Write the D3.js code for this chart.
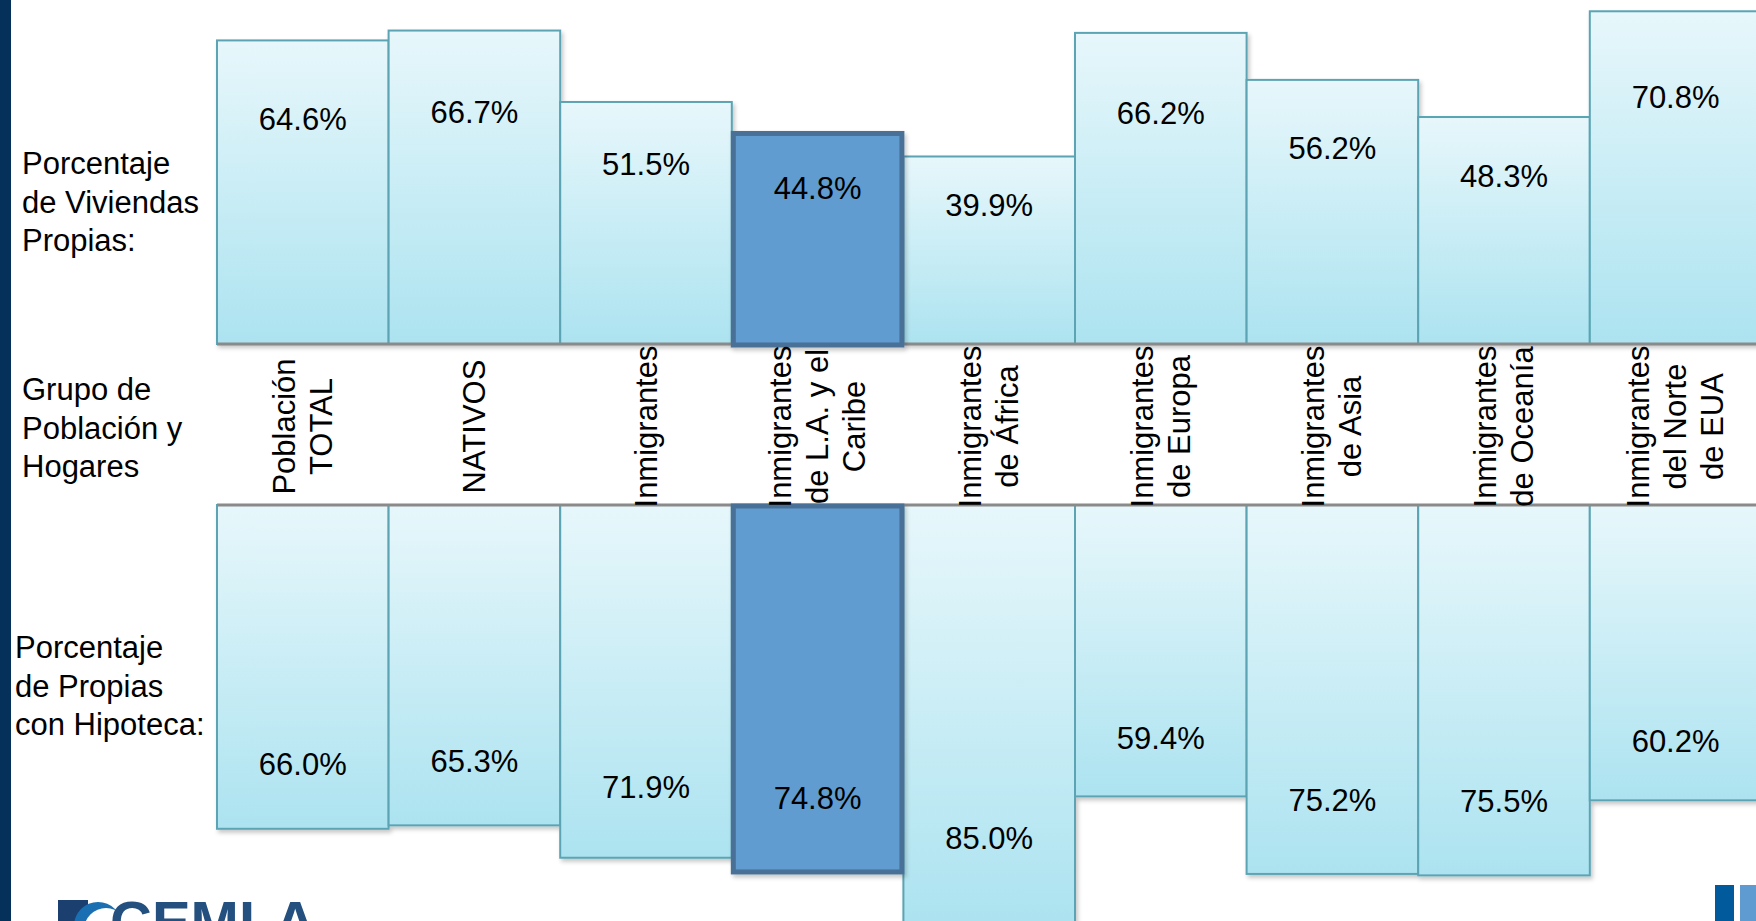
<!DOCTYPE html>
<html>
<head>
<meta charset="utf-8">
<script src="https://cdn.jsdelivr.net/npm/d3@7"></script>
<style>
  body { margin: 0; background: #fff; overflow: hidden; }
  svg { display: block; font-family: "Liberation Sans", Arial, Helvetica, sans-serif; }
</style>
</head>
<body>
<svg width="1756" height="921"></svg>
<script>
// groups, in the order of the columns
const grupos = ['TOTAL', 'NATIVOS', 'INM', 'LAC', 'AFR', 'EUR', 'ASIA', 'OCE', 'NOR'];
const grupoLineas = [
  ['Población', 'TOTAL'],
  ['NATIVOS'],
  ['Inmigrantes'],
  ['Inmigrantes', 'de L.A. y el', 'Caribe'],
  ['Inmigrantes', 'de África'],
  ['Inmigrantes', 'de Europa'],
  ['Inmigrantes', 'de Asia'],
  ['Inmigrantes', 'de Oceanía'],
  ['Inmigrantes', 'del Norte', 'de EUA']
];
const viviendasPropias = [64.6, 66.7, 51.5, 44.8, 39.9, 66.2, 56.2, 48.3, 70.8];
const conHipoteca = [66.0, 65.3, 71.9, 74.8, 85.0, 59.4, 75.2, 75.5, 60.2];
const destacado = 'LAC';

const filaArriba = ['Porcentaje', 'de Viviendas', 'Propias:'];
const filaMedio = ['Grupo de', 'Población y', 'Hogares'];
const filaAbajo = ['Porcentaje', 'de Propias', 'con Hipoteca:'];

const svg = d3.select('svg');
const fmt = d => d.toFixed(1) + '%';

const x = d3.scaleBand().domain(grupos).range([217, 217 + 171.6 * grupos.length]).padding(0);
const yTop = d3.scaleLinear().domain([0, 73.2]).range([344, 0]);
const yBot = d3.scaleLinear().domain([0, 85]).range([505, 922]);

const defs = svg.append('defs');
const grad = defs.append('linearGradient').attr('id', 'g').attr('x1', 0).attr('y1', 0).attr('x2', 0).attr('y2', 1);
grad.append('stop').attr('offset', '0%').attr('stop-color', '#e7f7fb');
grad.append('stop').attr('offset', '100%').attr('stop-color', '#ace3f0');
defs.append('filter').attr('id', 'sh').attr('x', '-10%').attr('y', '-10%').attr('width', '130%').attr('height', '130%')
  .append('feDropShadow').attr('dx', 2).attr('dy', 3).attr('stdDeviation', 2)
  .attr('flood-color', '#000').attr('flood-opacity', 0.22);

// left navy strip
svg.append('rect').attr('x', 0).attr('y', 0).attr('width', 11).attr('height', 921).attr('fill', '#04305a');

const rows = grupos.map((g, i) => ({
  g, lines: grupoLineas[i], top: viviendasPropias[i], bot: conHipoteca[i], hi: g === destacado
}));

const barsG = svg.append('g').attr('filter', 'url(#sh)');

function drawBars(data, cls) {
  const sel = barsG.selectAll('rect.' + cls).data(data).enter().append('rect')
    .attr('class', cls)
    .attr('x', d => x(d.g))
    .attr('width', x.bandwidth())
    .attr('fill', 'url(#g)')
    .attr('stroke', '#5ba4b3')
    .attr('stroke-width', 2);
  return sel;
}

// upper chart grows up from the middle band
drawBars(rows.filter(d => !d.hi), 'up')
  .attr('y', d => yTop(d.top))
  .attr('height', d => yTop(0) - yTop(d.top));
// lower chart hangs down
drawBars(rows.filter(d => !d.hi), 'dn')
  .attr('y', yBot(0))
  .attr('height', d => yBot(d.bot) - yBot(0));

// band lines
svg.selectAll('line.band').data([yTop(0), yBot(0)]).enter().append('line')
  .attr('class', 'band')
  .attr('x1', 217).attr('x2', 1756)
  .attr('y1', d => d).attr('y2', d => d)
  .attr('stroke', '#8a8a8a').attr('stroke-width', 3);

// highlighted group drawn over the band lines
const hiG = svg.append('g').attr('filter', 'url(#sh)');
const hiRow = rows.filter(d => d.hi);
hiG.selectAll('rect.hu').data(hiRow).enter().append('rect')
  .attr('x', d => x(d.g) + 1.5).attr('width', x.bandwidth() - 3)
  .attr('y', d => yTop(d.top)).attr('height', d => yTop(0) - yTop(d.top) + 1)
  .attr('fill', '#619cd0').attr('stroke', '#4a7097').attr('stroke-width', 5);
hiG.selectAll('rect.hd').data(hiRow).enter().append('rect')
  .attr('x', d => x(d.g) + 1.5).attr('width', x.bandwidth() - 3)
  .attr('y', yBot(0) + 1).attr('height', d => yBot(d.bot) - yBot(0) - 1)
  .attr('fill', '#619cd0').attr('stroke', '#4a7097').attr('stroke-width', 5);

// value labels
const lab = svg.append('g').attr('font-size', 31).attr('fill', '#000')
  .attr('text-anchor', 'middle').attr('dominant-baseline', 'central');
lab.selectAll('text.vt').data(rows).enter().append('text')
  .attr('x', d => x(d.g) + x.bandwidth() / 2)
  .attr('y', d => yTop(d.top) + 0.26 * (yTop(0) - yTop(d.top)))
  .text(d => fmt(d.top));
lab.selectAll('text.vb').data(rows).enter().append('text')
  .attr('x', d => x(d.g) + x.bandwidth() / 2)
  .attr('y', d => yBot(d.bot) - 0.2 * (yBot(d.bot) - yBot(0)))
  .text(d => fmt(d.bot));

// rotated group names in the middle band
const midY = (yTop(0) + yBot(0)) / 2 + 2;
const cat = svg.append('g').attr('font-size', 31).attr('text-anchor', 'middle').attr('dominant-baseline', 'central');
rows.forEach(d => {
  const cx = x(d.g) + x.bandwidth() / 2;
  d.lines.forEach((t, j) => {
    const off = (j - (d.lines.length - 1) / 2) * 37;
    cat.append('text')
      .attr('transform', `translate(${cx + off},${midY}) rotate(-90)`)
      .text(t);
  });
});

// row titles on the left
function rowTitle(lines, x0, y0) {
  svg.append('text').attr('font-size', 31).attr('dominant-baseline', 'central')
    .selectAll('tspan').data(lines).enter().append('tspan')
    .attr('x', x0).attr('y', (t, i) => y0 + i * 38.5)
    .text(t => t);
}
rowTitle(filaArriba, 22, 163);
rowTitle(filaMedio, 22, 389);
rowTitle(filaAbajo, 15, 647);

// logos, cut by the bottom edge
svg.append('rect').attr('x', 58).attr('y', 900).attr('width', 30).attr('height', 21).attr('fill', '#1b3f6e');
svg.append('circle').attr('cx', 98).attr('cy', 926).attr('r', 24).attr('fill', '#1a6fb3');
svg.append('circle').attr('cx', 106).attr('cy', 930).attr('r', 22).attr('fill', '#fff');
svg.append('text').attr('x', 110).attr('y', 942).attr('font-size', 58).attr('font-weight', 'bold')
  .attr('fill', '#23507f').text('CEMLA');
svg.append('rect').attr('x', 1715).attr('y', 885).attr('width', 19).attr('height', 36).attr('fill', '#005a9c');
svg.append('rect').attr('x', 1740).attr('y', 885).attr('width', 16).attr('height', 36).attr('fill', '#5f9bd1');
</script>
</body>
</html>
